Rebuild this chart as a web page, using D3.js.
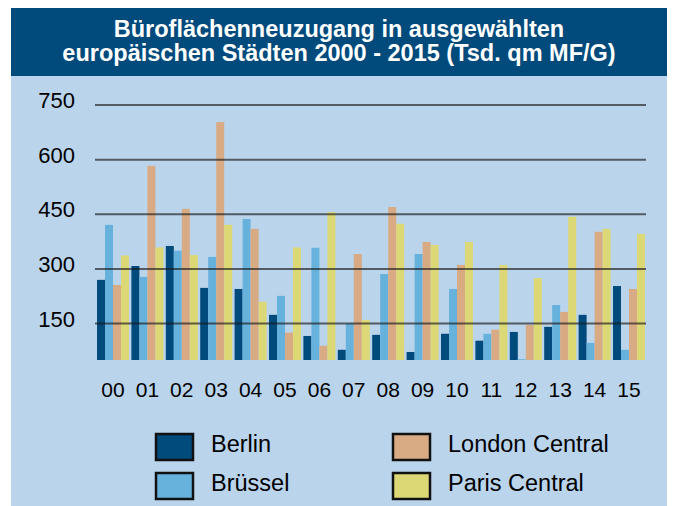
<!DOCTYPE html>
<meta charset="utf-8">
<style>
body {
  margin: 0;
  background: #fff;
  font-family: "Liberation Sans", Arial, Helvetica, sans-serif;
}
svg { display: block; }
.grid line {
  stroke: #1a1a1a;
  stroke-opacity: .65;
  stroke-width: 2px;
}
</style>
<body>
<script src="https://d3js.org/d3.v7.min.js"></script>
<script>

var width = 674,
    height = 506;

// Jahre (Achse), Reihen, Werte in Tsd. qm MF/G
var years = ["00","01","02","03","04","05","06","07","08","09","10","11","12","13","14","15"];
var cities = ["Berlin", "Brüssel", "London Central", "Paris Central"];
var berlin  = [270, 308, 363, 248, 245, 174, 116, 78, 119, 72, 122, 103, 127, 141, 174, 253];
var bruessel = [421, 278, 350, 333, 437, 226, 358, 150, 286, 341, 245, 122, 52, 201, 97, 78];
var london  = [256, 583, 465, 703, 410, 125, 89, 341, 470, 374, 311, 133, 146, 182, 402, 245];
var paris   = [337, 359, 338, 421, 210, 359, 456, 160, 424, 366, 374, 311, 275, 443, 410, 396];
var yTicks = [150, 300, 450, 600, 750];

var series = [berlin, bruessel, london, paris];
var colors = ["#004a7c", "#66b2dc", "#d9ab84", "#dcd876"];

var svg = d3.select("body").append("svg")
    .attr("width", width)
    .attr("height", height);

// hintergrund
svg.append("rect")
    .attr("x", 11).attr("y", 75)
    .attr("width", 656).attr("height", height - 75)
    .attr("fill", "#bad4ec");

svg.append("rect")
    .attr("x", 11).attr("y", 8)
    .attr("width", 656).attr("height", 68)
    .attr("fill", "#004a7c");

var title = svg.append("text")
    .attr("x", 339)
    .attr("text-anchor", "middle")
    .attr("fill", "#fff")
    .style("font-weight", "bold")
    .style("font-size", "23.5px");
title.append("tspan").attr("x", 339).attr("y", 37).text("Büroflächenneuzugang in ausgewählten");
title.append("tspan").attr("x", 339).attr("y", 61).text("europäischen Städten 2000 - 2015 (Tsd. qm MF/G)");

var x = d3.scaleBand()
    .domain(years)
    .range([97, 645])
    .paddingInner(0.07)
    .paddingOuter(0);

var x1 = d3.scaleBand()
    .domain(d3.range(cities.length))
    .range([0, x.bandwidth()]);

var y = d3.scaleLinear()
    .domain([50, 750])
    .range([360, 105]);

/* ------- BARS -------*/
var data = years.map(function(yr, i) {
  return series.map(function(s, k) { return {year: yr, k: k, value: s[i]}; });
});

var groups = svg.append("g").selectAll("g")
    .data(data)
    .join("g")
    .attr("transform", function(d, i) { return "translate(" + x(years[i]) + ",0)"; });

groups.selectAll("rect")
    .data(function(d) { return d; })
    .join("rect")
    .attr("x", function(d) { return x1(d.k); })
    .attr("width", x1.bandwidth())
    .attr("y", function(d) { return y(d.value); })
    .attr("height", function(d) { return Math.max(0, y(50) - y(d.value)); })
    .attr("fill", function(d) { return colors[d.k]; });

/* ------- GRID + AXES -------*/
svg.append("g")
    .attr("class", "grid")
    .selectAll("line")
    .data(yTicks)
    .join("line")
    .attr("x1", 95).attr("x2", 646)
    .attr("y1", function(d) { return y(d); })
    .attr("y2", function(d) { return y(d); });

svg.append("g")
    .selectAll("text")
    .data(yTicks)
    .join("text")
    .attr("x", 75)
    .attr("y", function(d) { return y(d) + 3; })
    .attr("text-anchor", "end")
    .style("font-size", "22px")
    .text(function(d) { return d; });

svg.append("g")
    .selectAll("text")
    .data(years)
    .join("text")
    .attr("x", function(d) { return x(d) + x.bandwidth() / 2; })
    .attr("y", 397)
    .attr("text-anchor", "middle")
    .style("font-size", "21px")
    .text(function(d) { return d; });

/* ------- LEGENDE -------*/
var legendPos = [[156, 434], [156, 473], [393, 434], [393, 473]];

var legend = svg.append("g")
    .selectAll("g")
    .data(cities)
    .join("g")
    .attr("transform", function(d, i) { return "translate(" + legendPos[i] + ")"; });

legend.append("rect")
    .attr("width", 37)
    .attr("height", 26)
    .attr("fill", function(d, i) { return colors[i]; })
    .attr("stroke", "#111")
    .attr("stroke-width", 2.5);

legend.append("text")
    .attr("x", 55)
    .attr("y", 18)
    .style("font-size", "23.5px")
    .text(function(d) { return d; });

</script>
</body>
